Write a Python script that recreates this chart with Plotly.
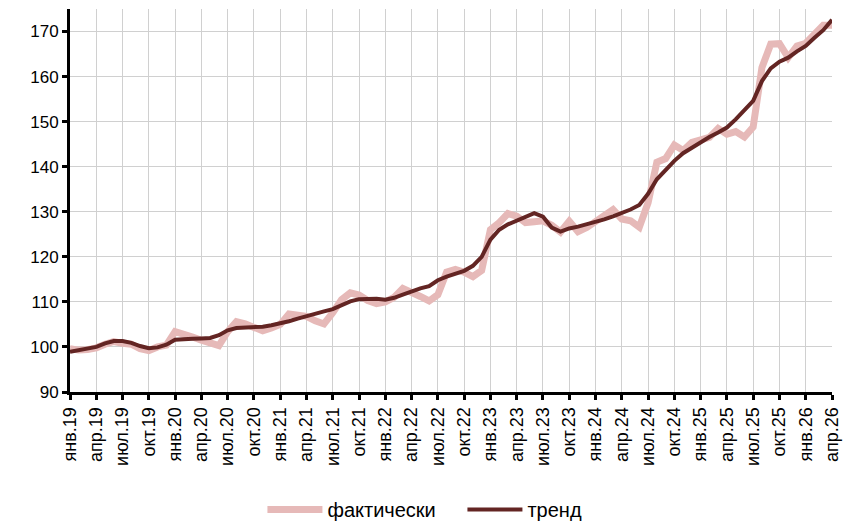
import plotly.graph_objects as go

# monthly data, Jan 2019 .. Apr 2026
months = ["янв", "фев", "мар", "апр", "май", "июн", "июл", "авг", "сен", "окт", "ноя", "дек"]
labels = [f"{m}.{y}" for y in range(19, 27) for m in months][:88]

actual = [
    99.6, 99.3, 99.4, 99.8, 100.6, 101.2, 100.8, 100.6, 99.6, 99.2, 100.0, 100.4,
    103.4, 102.6, 102.2, 101.5, 101.0, 100.3, 103.4, 105.6, 105.1, 104.3, 103.6, 104.2,
    105.0, 107.3, 107.1, 106.8, 105.8, 105.1, 107.6, 110.5, 112.0, 111.5, 110.3, 109.6,
    110.0, 111.0, 113.0, 112.3, 111.2, 110.2, 111.6, 116.6, 117.2, 116.6, 115.6, 117.0,
    126.0, 127.6, 129.6, 129.0, 127.6, 127.8, 128.0, 127.0, 125.5, 127.9, 125.6, 126.5,
    127.8, 128.8, 130.5, 128.4, 128.0, 126.6, 132.0, 141.0, 141.8, 144.8, 143.6, 145.4,
    145.8, 146.5, 148.5, 147.2, 147.8, 146.6, 148.8, 162.0, 167.2, 167.3, 164.2, 166.8,
    167.4, 169.4, 171.4, 171.4,
]
trend = [
    98.9, 99.2, 99.5, 100.0, 100.8, 101.3, 101.3, 100.9, 100.2, 99.7, 99.9, 100.5,
    101.6, 101.8, 101.8, 101.9, 102.0, 102.6, 103.7, 104.2, 104.3, 104.2, 104.5, 104.8,
    105.2, 105.7, 106.3, 106.9, 107.4, 107.9, 108.4, 109.3, 110.1, 110.6, 110.7, 110.7,
    110.5, 110.9, 111.6, 112.4, 113.0, 113.5, 114.8, 115.6, 116.3, 116.9, 118.0, 120.0,
    123.8, 126.0, 127.2, 128.0, 128.8, 129.7, 128.9, 126.5, 125.6, 126.3, 126.7, 127.2,
    127.6, 128.3, 129.0, 129.7, 130.5, 131.5, 134.0, 137.2, 139.4, 141.3, 143.0, 144.2,
    145.6, 146.6, 147.6, 148.7, 150.5, 152.6, 154.6, 159.0, 161.8, 163.3, 164.2, 165.6,
    166.8, 168.6, 170.3, 172.6,
]

x = list(range(len(labels)))
tick_idx = x[::3]

fig = go.Figure()
fig.add_trace(go.Scatter(x=x, y=actual, mode="lines", name="фактически",
                         line=dict(color="#E6B9B8", width=7)))
fig.add_trace(go.Scatter(x=x, y=trend, mode="lines", name="тренд",
                         line=dict(color="#632523", width=4)))

# page body adds an 8px offset, margins compensate for it
fig.update_layout(
    width=852, height=521,
    margin=dict(l=62, r=28, t=1, b=136),
    paper_bgcolor="white", plot_bgcolor="white",
    font=dict(family="Liberation Sans, Arial", color="black", size=15),
    showlegend=True,
    legend=dict(orientation="h", x=0.515, xanchor="center", y=-0.305, yanchor="middle",
                font=dict(size=20), itemwidth=55, tracegroupgap=0,
                entrywidth=130),
)
fig.update_xaxes(
    range=[0, 87], tickmode="array", tickvals=tick_idx,
    ticktext=[labels[i] for i in tick_idx], tickangle=-90,
    showgrid=True, gridcolor="#D0D0D0", gridwidth=1,
    showline=True, linecolor="black", linewidth=3,
    ticks="outside", ticklen=5, tickwidth=3, tickcolor="black",
    tickfont=dict(size=18), zeroline=False, automargin=False,
)
fig.update_yaxes(
    range=[90, 175], tickmode="array", tickvals=list(range(90, 171, 10)),
    showgrid=True, gridcolor="#D0D0D0", gridwidth=1,
    showline=True, linecolor="black", linewidth=3,
    ticks="outside", ticklen=5, tickwidth=3, tickcolor="black",
    tickfont=dict(size=17), zeroline=False, automargin=False,
)

fig.write_html("out.html")
